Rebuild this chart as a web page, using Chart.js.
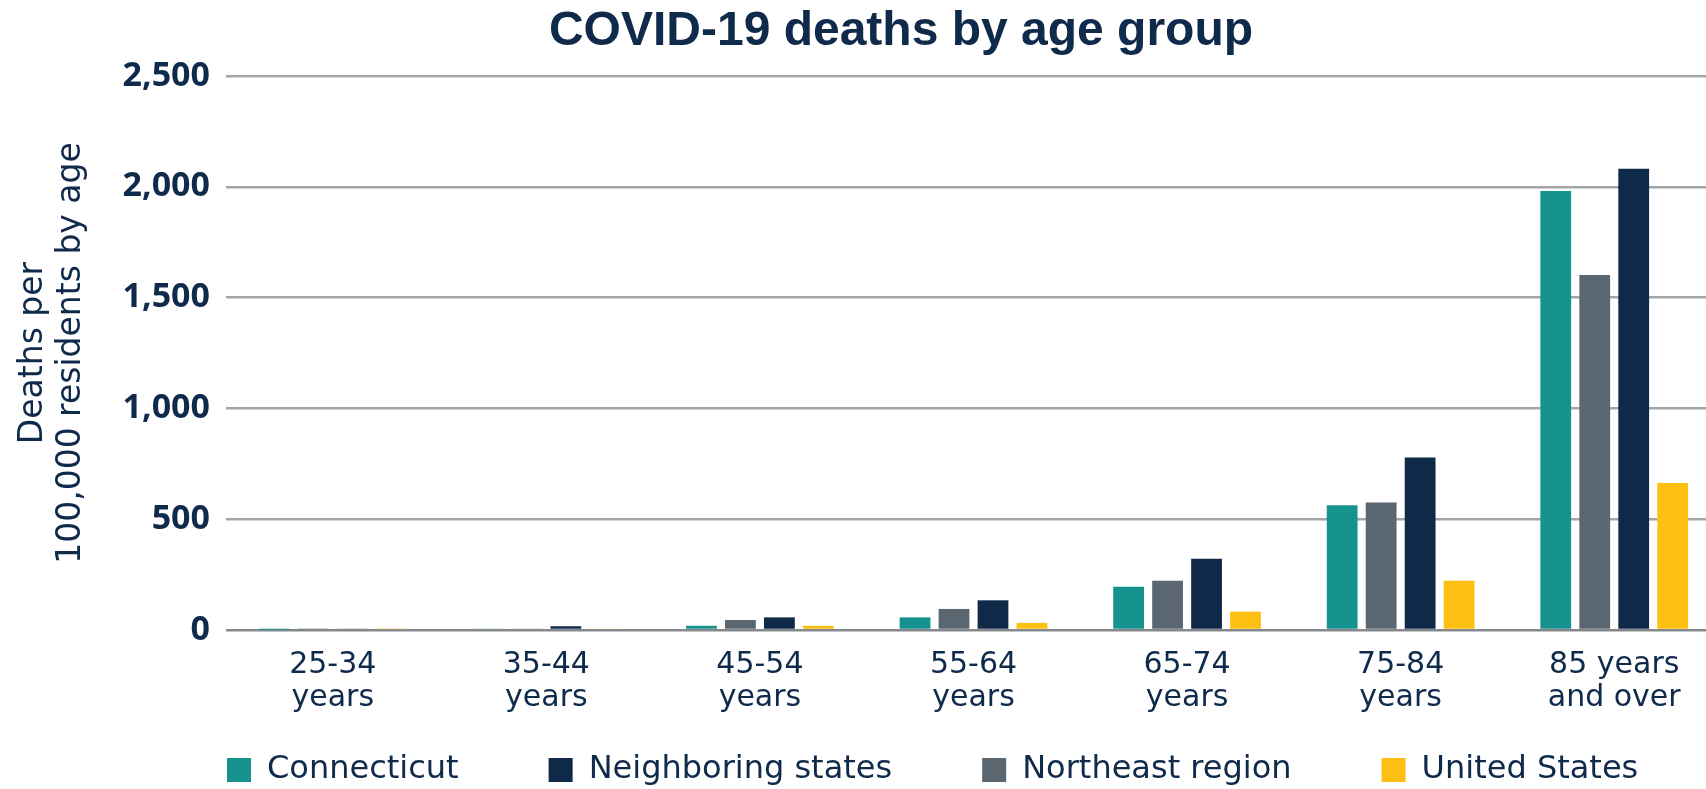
<!DOCTYPE html>
<html>
<head>
<meta charset="utf-8">
<title>COVID-19 deaths by age group</title>
<script src="https://cdn.jsdelivr.net/npm/chart.js@4.4.1/dist/chart.umd.min.js"></script>
<style>
    html, body { margin: 0; padding: 0; background: #ffffff; overflow: hidden; }
    .chart-wrap { position: relative; width: 1721px; height: 789px; }
</style>
</head>
<body>
<div class="chart-wrap"><canvas id="ageChart"></canvas></div>
<script>
// age groups (two-line tick labels)
const ageGroups = [
    ["25-34", "years"],
    ["35-44", "years"],
    ["45-54", "years"],
    ["55-64", "years"],
    ["65-74", "years"],
    ["75-84", "years"],
    ["85 years", "and over"],
];

// deaths per 100,000 residents
const connecticut = [1, 5, 19, 57, 195, 563, 1981];
const northeastRegion = [4, 5, 45, 95, 222, 575, 1602];
const neighboringStates = [5, 17, 57, 134, 322, 778, 2082];
const unitedStates = [4, 5, 19, 32, 83, 222, 663];

const yTicks = [0, 500, 1000, 1500, 2000, 2500];
const legendOrder = ["Connecticut", "Neighboring states", "Northeast region", "United States"];

const navy = "#0f2a4a";
const gridGray = "#a2a6a9";
const baseGray = "#85898d";

// title drawn at a fixed spot, like the original graphic
const titlePlugin = {
    id: "chartTitle",
    afterDraw: function (chart) {
        const ctx = chart.ctx;
        ctx.save();
        ctx.font = "bold 48px 'Liberation Sans', Arial, sans-serif";
        ctx.fillStyle = navy;
        ctx.textAlign = "center";
        ctx.textBaseline = "alphabetic";
        ctx.fillText("COVID-19 deaths by age group", 901, 45);
        ctx.restore();
    },
};

// pin the legend row under the axis labels (one row, no wrapping)
const legendPin = {
    id: "legendPin",
    afterLayout: function (chart) {
        const lg = chart.legend;
        const pad = lg.options.labels.padding;
        lg.top = 754 - pad;
        lg.bottom = chart.height;
        lg.left = 227 - pad;
        lg.right = chart.width + 400;
    },
};

function createGroupedBarChart(canvasId) {
    const ctx = document.getElementById(canvasId).getContext("2d");
    new Chart(ctx, {
        type: "bar",
        data: {
            labels: ageGroups,
            datasets: [
                { label: "Connecticut", data: connecticut, backgroundColor: "#17938f" },
                { label: "Northeast region", data: northeastRegion, backgroundColor: "#5b6770" },
                { label: "Neighboring states", data: neighboringStates, backgroundColor: "#0f2a48" },
                { label: "United States", data: unitedStates, backgroundColor: "#fcbf12" },
            ],
        },
        options: {
            responsive: true,
            maintainAspectRatio: false,
            animation: false,
            datasets: {
                bar: {
                    categoryPercentage: 0.73,
                    barPercentage: 0.79,
                    borderWidth: 0,
                },
            },
            layout: {
                padding: { top: 76, left: 0, right: 0, bottom: 0 },
            },
            plugins: {
                legend: {
                    position: "bottom",
                    align: "start",
                    maxHeight: 74,
                    labels: {
                        boxWidth: 24,
                        boxHeight: 24,
                        padding: 90,
                        color: navy,
                        font: { family: "'DejaVu Sans', sans-serif", size: 32 },
                        sort: (a, b) => legendOrder.indexOf(a.text) - legendOrder.indexOf(b.text),
                    },
                },
                tooltip: { enabled: false },
            },
            scales: {
                x: {
                    grid: { display: false, drawTicks: false },
                    border: { display: false },
                    ticks: {
                        color: navy,
                        font: { family: "'DejaVu Sans', sans-serif", size: 30, lineHeight: 1.1 },
                        padding: 19,
                        maxRotation: 0,
                        autoSkip: false,
                    },
                    afterFit: function (scale) {
                        scale.height = 85;
                    },
                },
                y: {
                    min: yTicks[0],
                    max: yTicks[yTicks.length - 1],
                    afterBuildTicks: function (scale) {
                        scale.ticks = yTicks.map((v) => ({ value: v }));
                    },
                    grid: {
                        color: (c) => (c.tick && c.tick.value === 0 ? baseGray : gridGray),
                        lineWidth: 2.5,
                        drawTicks: false,
                    },
                    border: { display: false },
                    ticks: {
                        color: navy,
                        padding: 16,
                        font: { family: "'Open Sans', sans-serif", size: 34, weight: "bold" },
                        callback: (value) => value.toLocaleString("en-US"),
                    },
                    title: {
                        display: true,
                        text: ["Deaths per", "100,000 residents by age"],
                        color: navy,
                        font: { family: "'DejaVu Sans', sans-serif", size: 33, lineHeight: 1.15 },
                        padding: { top: 14, bottom: 0 },
                    },
                    afterFit: function (scale) {
                        scale.width = 226;
                    },
                },
            },
        },
        plugins: [titlePlugin, legendPin],
    });
}

createGroupedBarChart("ageChart");
</script>
</body>
</html>
